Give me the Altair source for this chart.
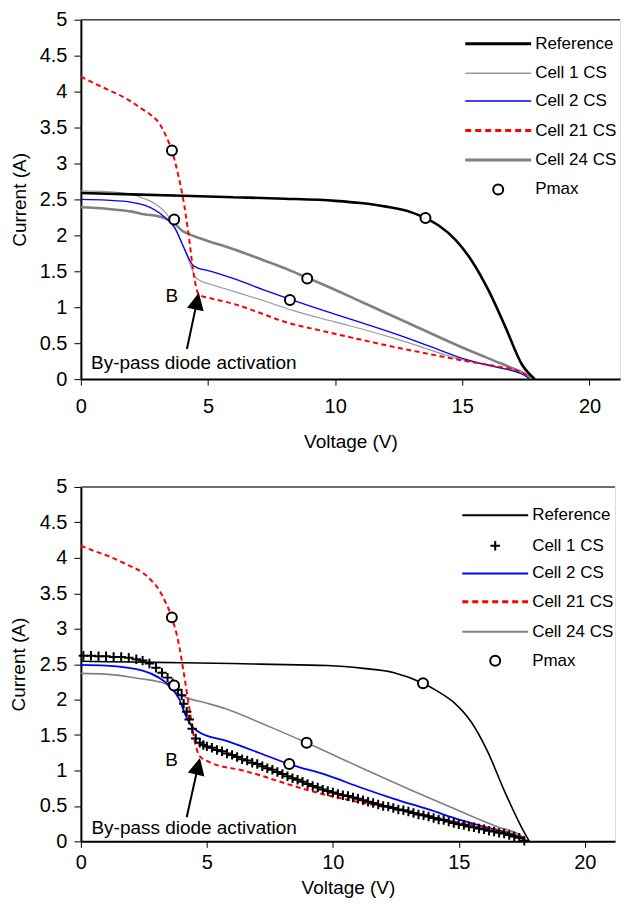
import altair as alt
import pandas as pd

FONT = "Liberation Sans"

# ---------------- top panel data ----------------
t_ref_v = [0, 2, 4, 6, 8, 10, 11, 12, 13, 13.55, 14.1, 14.75, 15.4, 16.05, 16.7, 17.35, 17.85]
t_ref_i = [2.59, 2.57, 2.55, 2.53, 2.51, 2.48, 2.45, 2.40, 2.32, 2.24, 2.13, 1.93, 1.63, 1.22, 0.72, 0.20, 0.0]

t_c1_v = [0, 1, 2, 2.5, 3.0, 3.35, 3.7, 4.05, 4.35, 4.5, 4.7, 5.2, 6.1, 7.1, 8.3, 9.5, 10.5, 12.4, 15.0, 16.5, 17.3, 17.55, 17.7]
t_c1_i = [2.62, 2.61, 2.57, 2.51, 2.42, 2.31, 2.10, 1.82, 1.55, 1.42, 1.37, 1.31, 1.21, 1.10, 0.96, 0.84, 0.75, 0.56, 0.27, 0.16, 0.09, 0.04, 0.0]

t_c2_v = [0, 1, 2, 2.5, 3.2, 3.7, 4.05, 4.37, 4.63, 5.0, 6.07, 7.13, 8.24, 9.5, 11, 12.37, 13.7, 15.0, 16.3, 17.2, 17.5, 17.65]
t_c2_i = [2.50, 2.49, 2.46, 2.42, 2.28, 2.10, 1.83, 1.60, 1.54, 1.51, 1.39, 1.25, 1.11, 0.96, 0.79, 0.63, 0.46, 0.29, 0.17, 0.09, 0.04, 0.0]

t_c21_v = [0, 0.5, 1.1, 1.8, 2.4, 2.8, 3.1, 3.4, 3.58, 3.8, 4.0, 4.24, 4.44, 4.63, 4.8, 5.03, 6.07, 7.13, 7.9, 9.5, 11.0, 12.4, 13.4, 15.0, 16.3, 17.3, 17.5, 17.65]
t_c21_i = [4.21, 4.12, 4.02, 3.90, 3.76, 3.66, 3.55, 3.34, 3.18, 2.88, 2.55, 2.00, 1.45, 1.18, 1.15, 1.13, 1.04, 0.91, 0.81, 0.67, 0.55, 0.44, 0.37, 0.26, 0.18, 0.10, 0.06, 0.0]

t_c24_v = [0, 1, 2, 2.53, 3.0, 3.35, 3.7, 4.0, 4.3, 4.76, 6.07, 7.13, 8.17, 8.9, 9.5, 11, 13, 15.0, 16.5, 17.3, 17.55, 17.7]
t_c24_i = [2.39, 2.37, 2.33, 2.29, 2.27, 2.23, 2.16, 2.06, 2.01, 1.95, 1.80, 1.66, 1.52, 1.41, 1.32, 1.08, 0.76, 0.44, 0.22, 0.10, 0.05, 0.0]

t_pmax_v = [3.58, 3.67, 8.22, 8.9, 13.55]
t_pmax_i = [3.18, 2.22, 1.10, 1.40, 2.24]

# ---------------- bottom panel data ----------------
b_ref_v = [0, 2, 4, 6, 7.14, 9.79, 11.2, 12.43, 13.58, 14.1, 14.8, 15.48, 16.14, 16.8, 17.46, 17.8]
b_ref_i = [2.54, 2.53, 2.52, 2.51, 2.50, 2.48, 2.44, 2.38, 2.23, 2.13, 1.96, 1.69, 1.27, 0.72, 0.22, 0.0]

b_c1_v = [0.1, 0.4, 0.7, 1.0, 1.3, 1.6, 1.9, 2.2, 2.45, 2.72, 2.98, 3.22, 3.44, 3.64, 3.85, 4.0, 4.08, 4.2, 4.3, 4.42, 4.56, 4.72, 4.86,
          5.0, 5.2, 5.4, 5.6, 5.8, 6.0, 6.2, 6.4, 6.6, 6.8, 7.0, 7.2, 7.4, 7.6, 7.8, 8.0, 8.2, 8.4, 8.6, 8.8,
          9.0, 9.2, 9.4, 9.6, 9.8, 10.0, 10.2, 10.4, 10.6, 10.8, 11.0, 11.2, 11.4, 11.6, 11.8, 12.0, 12.2, 12.4,
          12.6, 12.8, 13.0, 13.2, 13.4, 13.6, 13.8, 14.0, 14.2, 14.4, 14.6, 14.8, 15.0, 15.2, 15.4, 15.6, 15.8,
          16.0, 16.2, 16.4, 16.6, 16.8, 17.0, 17.2, 17.4, 17.6]
b_c1_i = [2.62, 2.62, 2.61, 2.61, 2.60, 2.60, 2.59, 2.57, 2.55, 2.51, 2.45, 2.38, 2.31, 2.23, 2.14, 2.06, 1.94, 1.83, 1.72, 1.59, 1.45, 1.39, 1.36,
          1.34, 1.32, 1.29, 1.27, 1.24, 1.22, 1.19, 1.16, 1.14, 1.11, 1.09, 1.06, 1.03, 1.01, 0.98, 0.95, 0.92, 0.89, 0.87, 0.84,
          0.81, 0.78, 0.76, 0.73, 0.71, 0.69, 0.67, 0.65, 0.64, 0.62, 0.60, 0.58, 0.56, 0.54, 0.52, 0.50, 0.49, 0.47,
          0.45, 0.44, 0.42, 0.40, 0.38, 0.37, 0.35, 0.33, 0.31, 0.30, 0.28, 0.26, 0.24, 0.23, 0.21, 0.20, 0.18,
          0.17, 0.15, 0.14, 0.12, 0.11, 0.09, 0.07, 0.05, 0.01]

b_c2_v = [0, 1, 2.45, 3.1, 3.5, 3.9, 4.17, 4.43, 4.7, 5.75, 7.14, 8.27, 9.79, 11.1, 12.43, 13.8, 15.08, 16.3, 17.2, 17.5, 17.65]
b_c2_i = [2.49, 2.48, 2.41, 2.31, 2.20, 2.01, 1.77, 1.61, 1.54, 1.42, 1.24, 1.09, 0.93, 0.76, 0.60, 0.45, 0.30, 0.18, 0.09, 0.04, 0.0]

b_c21_v = [0, 0.5, 1.12, 1.8, 2.45, 2.8, 3.1, 3.35, 3.61, 3.9, 4.06, 4.23, 4.37, 4.56, 4.7, 5.09, 6.42, 7.14, 7.74, 9.79, 11.1, 12.43, 13.8, 15.08, 16.3, 17.2, 17.5, 17.65]
b_c21_i = [4.17, 4.10, 4.02, 3.91, 3.79, 3.68, 3.55, 3.38, 3.16, 2.76, 2.43, 2.05, 1.73, 1.35, 1.21, 1.12, 1.00, 0.93, 0.86, 0.65, 0.55, 0.46, 0.36, 0.26, 0.18, 0.10, 0.06, 0.0]

b_c24_v = [0, 1, 2.45, 3.0, 3.37, 3.77, 4.17, 5.0, 5.75, 7.14, 7.74, 8.96, 11, 13, 15.08, 16.5, 17.46, 17.7]
b_c24_i = [2.37, 2.36, 2.29, 2.26, 2.22, 2.10, 2.03, 1.95, 1.87, 1.67, 1.58, 1.39, 1.06, 0.74, 0.42, 0.21, 0.08, 0.0]

b_pmax_v = [3.61, 3.70, 8.27, 8.96, 13.58]
b_pmax_i = [3.16, 2.20, 1.09, 1.39, 2.23]

# ---------------- annotations ----------------
ann_text = ["B", "By-pass diode activation"]
t_ann_v = [3.58, 0.40]
t_ann_i = [1.15, 0.22]
b_ann_v = [3.60, 0.42]
b_ann_i = [1.15, 0.19]
# arrow: tail -> head (head centre)
t_arrow = [4.17, 0.42, 4.57, 1.085]
b_arrow = [4.20, 0.34, 4.65, 1.06]
t_arrow_angle = 12
b_arrow_angle = 13

legend_labels = ["Reference", "Cell 1 CS", "Cell 2 CS", "Cell 21 CS", "Cell 24 CS", "Pmax"]

XDOM = [0, 21.2]
YDOM = [0, 5]
CROSS = "M-1,0L1,0M0,-1L0,1"
TRI = "M0,-1L1,1L-1,1Z"


def axes(label_pad_x, title_pad_x, title_pad_y):
    xax = alt.Axis(values=[0, 5, 10, 15, 20], title="Voltage (V)", grid=False,
                   tickSize=6, tickColor="black", tickWidth=1,
                   domainColor="black", domainWidth=2,
                   labelFont=FONT, labelFontSize=20, labelColor="black", labelPadding=label_pad_x,
                   titleFont=FONT, titleFontSize=19, titleFontWeight="normal", titleColor="black",
                   titlePadding=title_pad_x, labelFlush=False)
    yax = alt.Axis(values=[0, 0.5, 1, 1.5, 2, 2.5, 3, 3.5, 4, 4.5, 5], format="~g",
                   title="Current (A)", grid=False,
                   tickSize=7, tickColor="black", tickWidth=1,
                   domainColor="black", domainWidth=2,
                   labelFont=FONT, labelFontSize=20, labelColor="black", labelPadding=7,
                   titleFont=FONT, titleFontSize=19, titleFontWeight="normal", titleColor="black",
                   titlePadding=title_pad_y, labelFlush=False)
    return xax, yax


def enc(xax, yax, xf="V", yf="I"):
    return dict(
        x=alt.X(f"{xf}:Q", scale=alt.Scale(domain=XDOM, nice=False, zero=False), axis=xax),
        y=alt.Y(f"{yf}:Q", scale=alt.Scale(domain=YDOM, nice=False, zero=False), axis=yax),
    )


def line(v, i, xax, yax, color, width, dash=None):
    df = pd.DataFrame({"V": v, "I": i})
    kw = dict(color=color, strokeWidth=width, interpolate="monotone", clip=True)
    if dash:
        kw["strokeDash"] = dash
    return alt.Chart(df).mark_line(**kw).encode(**enc(xax, yax))


def legend_layers(ys, x0, x1, xl, xsym, styles):
    out = []
    for lab, y, st in zip(legend_labels, ys, styles):
        kind = st[0]
        if kind == "line":
            _, color, width, dash = st
            kw = dict(color=color, strokeWidth=width)
            if dash:
                kw["strokeDash"] = dash
            out.append(alt.Chart().mark_rule(**kw).encode(
                x=alt.value(x0), x2=alt.value(x1), y=alt.value(y)))
        elif kind == "circle":
            out.append(alt.Chart().mark_point(shape="circle", size=100, filled=True, fill="white",
                                              stroke="black", strokeWidth=2, opacity=1).encode(
                x=alt.value(xsym), y=alt.value(y)))
        elif kind == "cross":
            out.append(alt.Chart().mark_point(shape=CROSS, size=90, filled=False, color="black",
                                              strokeWidth=2, opacity=1).encode(
                x=alt.value(xsym), y=alt.value(y)))
        out.append(alt.Chart().mark_text(text=lab, font=FONT, fontSize=17, align="left",
                                         baseline="middle", color="black").encode(
            x=alt.value(xl), y=alt.value(y)))
    return out


def panel(width, height, lines, pmax_v, pmax_i, ann_v, ann_i, arrow, arrow_angle,
          label_pad_x, title_pad_x, title_pad_y, legend, cross=None):
    xax, yax = axes(label_pad_x, title_pad_x, title_pad_y)
    layers = []
    for (v, i, color, w, dash) in lines:
        layers.append(line(v, i, xax, yax, color, w, dash))
    if cross is not None:
        cdf = pd.DataFrame({"V": cross[0], "I": cross[1]})
        layers.append(alt.Chart(cdf).mark_point(shape=CROSS, size=90, filled=False, color="black",
                                                strokeWidth=2, opacity=1).encode(**enc(xax, yax)))
    pdf = pd.DataFrame({"V": pmax_v, "I": pmax_i})
    layers.append(alt.Chart(pdf).mark_point(shape="circle", size=100, filled=True, fill="white",
                                            stroke="black", strokeWidth=2, opacity=1).encode(**enc(xax, yax)))
    adf = pd.DataFrame({"V": ann_v, "I": ann_i, "t": ann_text})
    layers.append(alt.Chart(adf.iloc[[0]]).mark_text(font=FONT, fontSize=19, align="center",
                                                   baseline="middle", color="black").encode(
        text="t:N", **enc(xax, yax)))
    layers.append(alt.Chart(adf.iloc[[1]]).mark_text(font=FONT, fontSize=19, align="left",
                                                   baseline="middle", color="black").encode(
        text="t:N", **enc(xax, yax)))
    rdf = pd.DataFrame({"V": [arrow[0]], "I": [arrow[1]], "V2": [arrow[2]], "I2": [arrow[3]]})
    layers.append(alt.Chart(rdf).mark_rule(color="black", strokeWidth=2).encode(
        x2="V2:Q", y2="I2:Q", **enc(xax, yax)))
    layers.append(alt.Chart(rdf).mark_point(shape=TRI, size=289, filled=True, color="black",
                                            opacity=1, angle=arrow_angle).encode(
        **enc(xax, yax, "V2", "I2")))
    # top frame line
    layers.append(alt.Chart().mark_rule(color="#444444", strokeWidth=1.5).encode(
        x=alt.value(0), x2=alt.value(width), y=alt.value(0)))
    layers += legend
    return alt.layer(*layers).properties(width=width, height=height)


top_lines = [
    (t_c24_v, t_c24_i, "#808080", 2.6, None),
    (t_c1_v, t_c1_i, "#999999", 1.2, None),
    (t_c2_v, t_c2_i, "#0000ff", 1.3, None),
    (t_c21_v, t_c21_i, "#ff0000", 2.0, [5, 3.5]),
    (t_ref_v, t_ref_i, "#000000", 2.6, None),
]
top_legend = legend_layers(
    [24.0, 53.6, 81.5, 111.0, 140.5, 170.0], 385, 451, 455, 418,
    [("line", "#000000", 3, None), ("line", "#999999", 1.5, None), ("line", "#0000ff", 1.5, None),
     ("line", "#ff0000", 3, [6, 4]), ("line", "#808080", 3, None), ("circle",)])

bot_lines = [
    (b_c24_v, b_c24_i, "#808080", 1.6, None),
    (b_c2_v, b_c2_i, "#0000ff", 1.8, None),
    (b_c21_v, b_c21_i, "#ff0000", 2.0, [5, 3.5]),
    (b_ref_v, b_ref_i, "#000000", 1.6, None),
]
bot_legend = legend_layers(
    [28.3, 59.0, 86.7, 115.0, 145.0, 174.0], 382, 448, 452, 415,
    [("line", "#000000", 2, None), ("cross",), ("line", "#0000ff", 2, None),
     ("line", "#ff0000", 3, [6, 4]), ("line", "#808080", 2, None), ("circle",)])

top = panel(540, 360, top_lines, t_pmax_v, t_pmax_i, t_ann_v, t_ann_i, t_arrow, t_arrow_angle,
            11, 16, 10, top_legend)
bottom = panel(535, 355, bot_lines, b_pmax_v, b_pmax_i, b_ann_v, b_ann_i, b_arrow, b_arrow_angle,
               5, 6, 11, bot_legend, cross=(b_c1_v, b_c1_i))

chart = alt.vconcat(top, bottom, spacing=24).properties(
    padding={"left": 0, "top": 0, "right": 0, "bottom": 0}
).configure_view(stroke=None).configure(background="white")

chart.save("out.html", embed_options={"renderer": "svg", "actions": False})
